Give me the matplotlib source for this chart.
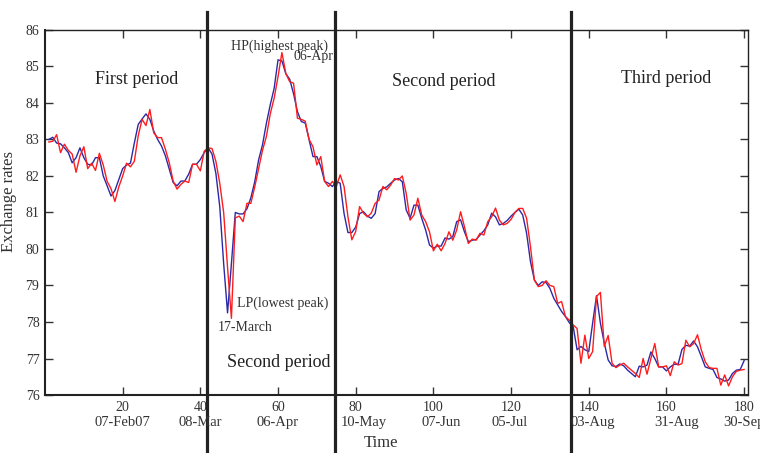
import numpy as np
import matplotlib
matplotlib.use("Agg")
import matplotlib.pyplot as plt

plt.rcParams['font.family'] = ['Liberation Serif', 'DejaVu Serif']

# day index and the two series (blue = actual, red = forecast)
days = np.arange(1, 181)
actual = [
    83.0, 83.06, 82.9, 82.88, 82.77, 82.64, 82.36, 82.5, 82.77, 82.5,
    82.32, 82.3, 82.5, 82.5, 82.0, 81.73, 81.45, 81.6, 81.9, 82.2,
    82.3, 82.35, 82.9, 83.41, 83.56, 83.7, 83.55, 83.23, 83.0, 82.82,
    82.55, 82.18, 81.82, 81.73, 81.86, 81.86, 82.05, 82.32, 82.32, 82.45,
    82.64, 82.77, 82.6, 82.07, 81.16, 79.6, 78.25, 79.6, 81.0, 80.96,
    80.96, 81.1, 81.4, 81.84, 82.44, 82.85, 83.44, 83.95, 84.4, 85.18,
    85.15, 84.8, 84.65, 84.25, 83.76, 83.49, 83.45, 82.99, 82.53, 82.53,
    82.26, 81.85, 81.8, 81.71, 81.85, 81.8, 80.97, 80.45, 80.45, 80.6,
    80.97, 81.02, 80.9, 80.84, 80.97, 81.57, 81.66, 81.7, 81.8, 81.89,
    81.93, 81.84, 81.07, 80.84, 81.2, 81.2, 80.84, 80.52, 80.11, 80.02,
    80.08, 80.08, 80.3, 80.27, 80.34, 80.75, 80.8, 80.47, 80.2, 80.24,
    80.26, 80.38, 80.5, 80.66, 80.98, 80.88, 80.66, 80.7, 80.78, 80.9,
    81.0, 81.09, 80.93, 80.43, 79.65, 79.15, 79.0, 79.1, 79.08, 78.92,
    78.65, 78.47, 78.29, 78.15, 77.98, 77.87, 77.24, 77.33, 77.24, 77.19,
    77.97, 78.72, 77.97, 77.42, 76.96, 76.8, 76.78, 76.85, 76.8, 76.68,
    76.59, 76.5, 76.79, 76.77, 76.82, 77.18, 77.0, 76.77, 76.77, 76.66,
    76.77, 76.84, 76.84, 77.25, 77.36, 77.34, 77.48, 77.32, 77.05, 76.77,
    76.73, 76.7, 76.48, 76.44, 76.38, 76.41, 76.59, 76.68, 76.7, 76.94,
]
forecast = [
    82.93, 82.95, 83.13, 82.64, 82.87, 82.7, 82.6, 82.1, 82.55, 82.8,
    82.2, 82.35, 82.15, 82.62, 82.3, 81.85, 81.65, 81.3, 81.7, 82.0,
    82.35, 82.25, 82.4, 83.1, 83.55, 83.38, 83.82, 83.18, 83.05, 83.05,
    82.73, 82.36, 81.86, 81.64, 81.77, 81.86, 81.82, 82.32, 82.32, 82.14,
    82.68, 82.77, 82.75, 82.4, 81.8, 81.0, 79.5, 78.1, 80.85, 80.9,
    80.75, 81.25, 81.25, 81.7, 82.2, 82.7, 83.08, 83.7, 84.13, 84.72,
    85.38, 84.81, 84.58, 84.54, 83.58, 83.55, 83.5, 83.0, 82.8, 82.3,
    82.53, 81.85, 81.71, 81.85, 81.71, 82.03, 81.71, 80.88, 80.25, 80.48,
    81.16, 80.98, 80.88, 80.98, 81.25, 81.34, 81.71, 81.62, 81.75, 81.93,
    81.89, 82.0, 81.52, 80.79, 80.93, 81.39, 80.93, 80.75, 80.47, 79.95,
    80.13, 79.95, 80.15, 80.47, 80.24, 80.52, 81.02, 80.61, 80.15, 80.27,
    80.24, 80.43, 80.38, 80.75, 80.88, 81.12, 80.79, 80.66, 80.7, 80.81,
    81.0, 81.11, 81.11, 80.84, 80.06, 79.15, 78.97, 79.0, 79.13, 79.0,
    78.97, 78.51, 78.56, 78.15, 78.05, 77.92, 77.82, 76.87, 77.64, 77.0,
    77.19, 78.7, 78.81, 77.33, 77.63, 76.87, 76.75, 76.82, 76.87, 76.77,
    76.68, 76.59, 76.48, 77.0, 76.57, 77.0, 77.41, 76.77, 76.77, 76.8,
    76.53, 76.91, 76.82, 76.86, 77.5, 77.32, 77.41, 77.65, 77.23, 76.91,
    76.75, 76.73, 76.73, 76.27, 76.55, 76.25, 76.5, 76.65, 76.68, 76.7,
]

period_breaks = [41.6, 74.6, 135.4]
date_pos = [20, 40, 60, 82.1, 102, 119.6, 141, 162.6, 180]
date_labels = ['07-Feb07', '08-Mar', '06-Apr', '10-May', '07-Jun', '05-Jul',
               '03-Aug', '31-Aug', '30-Sep']

fig = plt.figure(figsize=(7.6, 4.53), dpi=100)
ax = fig.add_axes([0.0592, 0.128, 0.925, 0.806])

ax.plot(days, actual, color='#2a2aa8', lw=1.0)
ax.plot(days, forecast, color='#ff1c1c', lw=1.0)

ax.set_xlim(0, 181)
ax.set_ylim(76, 86)
ax.set_xticks([20, 40, 60, 80, 100, 120, 140, 160, 180])
ax.set_yticks(range(76, 87))
ax.tick_params(direction='in', length=6, width=1, top=True, right=True,
               labelsize=10, colors='#333333', pad=4)
for s in ax.spines.values():
    s.set_color('#222222')
    s.set_linewidth(1.0)
ax.spines['left'].set_linewidth(1.5)
ax.spines['bottom'].set_linewidth(1.5)

for xb in period_breaks:
    ax.axvline(xb, ymin=-0.16, ymax=1.05, color='#222222', lw=2.3, clip_on=False)

for xp, lab in zip(date_pos, date_labels):
    ax.text(xp, -0.076, lab, transform=ax.get_xaxis_transform(), ha='center',
            va='center', fontsize=10.5, color='#333333', clip_on=False)

ax.text(0.478, -0.132, 'Time', transform=ax.transAxes, ha='center',
        va='center', fontsize=12, color='#333333')
ax.set_ylabel('Exchange rates', fontsize=12, color='#333333')
ax.yaxis.set_label_coords(-0.04, 0.53)

big = dict(fontsize=13, color='#222222', ha='center', va='center')
small = dict(fontsize=10, color='#333333', ha='center', va='center')
ax.text(23.7, 84.63, 'First period', **big)
ax.text(102.7, 84.6, 'Second period', **big)
ax.text(160, 84.66, 'Third period', **big)
ax.text(60.2, 76.88, 'Second period', **big)
ax.text(60.5, 85.55, 'HP(highest peak)', **small)
ax.text(69.0, 85.27, '06-Apr', **small)
ax.text(61.3, 78.52, 'LP(lowest peak)', **small)
ax.text(51.5, 77.86, '17-March', **small)

fig.savefig('out.png', dpi=100)
